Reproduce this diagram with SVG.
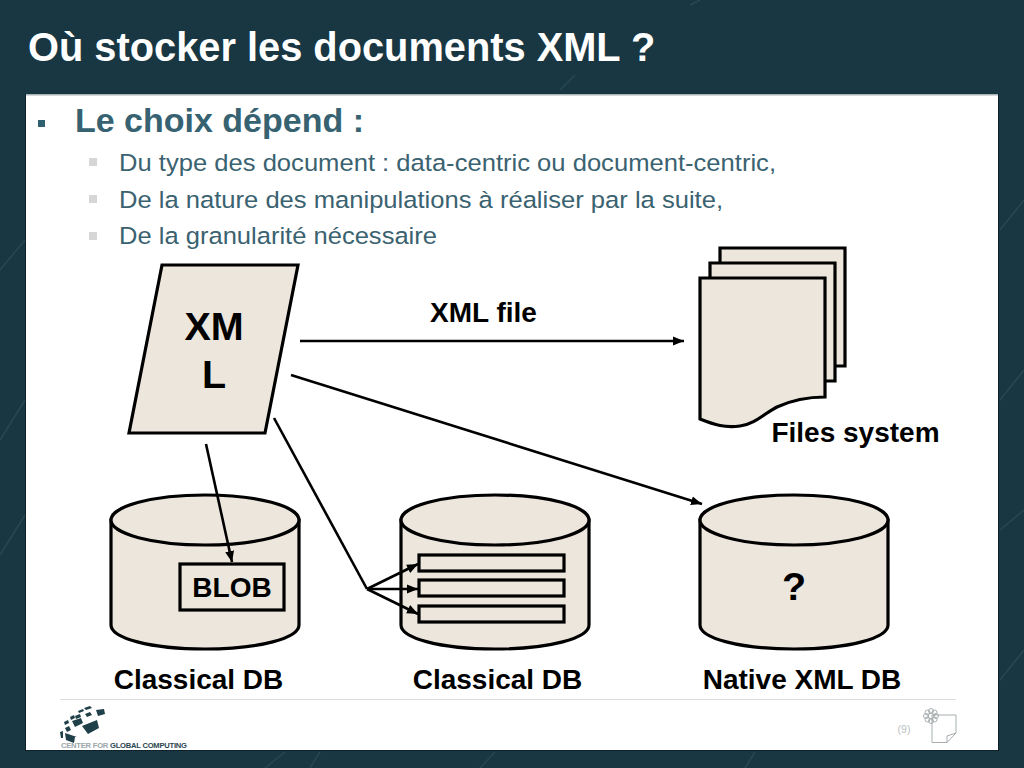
<svg xmlns="http://www.w3.org/2000/svg" width="1024" height="768" viewBox="0 0 1024 768">
<style>
text{font-family:"Liberation Sans",Arial,sans-serif}
.lbl{font-weight:bold;fill:#000;font-size:28px;text-anchor:middle}
.sub{fill:#3a6270;font-size:24.500px}
.s{fill:#ece6dd;stroke:#000;stroke-width:3.2;stroke-linejoin:miter}
.c{fill:none;stroke:#000;stroke-width:2.6}
.deco{fill:none;stroke:#28474f;stroke-width:1.5}
.logo{fill:#1f3f49}
</style>
<defs>
<marker id="arr" markerUnits="userSpaceOnUse" markerWidth="12" markerHeight="10" refX="11" refY="5" orient="auto"><path d="M0 0.5L11 5L0 9.5Z" fill="#000"/></marker>
</defs>
<g id="background">
<rect width="1024" height="768" fill="#183742"/>
<path class="deco" d="M0 440L25 400M0 555L25 515M0 270L25 240M1000 230L1024 200M1000 400L1024 370M1000 530L1024 510M1000 680L1024 650M265 768L285 752M480 768L495 752M310 768L320 752M745 768L755 752M700 0L690 5M560 90L575 75"/>
</g>
<g id="slide">
<rect x="25.500" y="94.500" width="973" height="656" fill="#fff" stroke="#0e2229" stroke-width="1"/>
<rect x="26" y="94" width="972" height="1.500" fill="#a9b4b7"/>
<text x="28" y="61" font-size="39.800" font-weight="bold" fill="#fff">Où stocker les documents XML ?</text>
<rect x="38" y="120" width="7" height="7" fill="#2f6070"/>
<text x="75" y="132" font-size="33" font-weight="bold" fill="#366271" textLength="289" lengthAdjust="spacingAndGlyphs">Le choix dépend :</text>
<rect x="89" y="158" width="8" height="8" fill="#d6d6d6"/>
<text class="sub" x="119" y="171" textLength="657" lengthAdjust="spacingAndGlyphs">Du type des document : data-centric ou document-centric,</text>
<rect x="89" y="195" width="8" height="8" fill="#d6d6d6"/>
<text class="sub" x="119" y="208" textLength="604" lengthAdjust="spacingAndGlyphs">De la nature des manipulations à réaliser par la suite,</text>
<rect x="89" y="232" width="8" height="8" fill="#d6d6d6"/>
<text class="sub" x="119" y="244" textLength="318" lengthAdjust="spacingAndGlyphs">De la granularité nécessaire</text>
</g>
<g id="node-xml">
<path class="s" d="M162 265H298L265 433H129Z"/>
<text x="214" y="340" font-size="39.500" font-weight="bold" text-anchor="middle">XM</text>
<text x="214" y="388" font-size="39.500" font-weight="bold" text-anchor="middle">L</text>
</g>
<g id="node-files">
<path class="s" d="M720 248H845V366H720Z"/>
<path class="s" d="M710 263H835V381H710Z"/>
<path class="s" d="M700 278H825V397C805 397 790 401 777 407C765 413 755 424 740 426C725 428 715 425 700 419Z"/>
<text class="lbl" x="855.500" y="442">Files system</text>
</g>
<g id="node-db1">
<path class="s" d="M111 520V625C111 638 150 649 205 649C260 649 299 638 299 625V520Z"/>
<ellipse class="s" cx="205" cy="520" rx="94" ry="25"/>
<rect class="s" x="180" y="564" width="104" height="46"/>
<text x="232" y="597" font-size="28" font-weight="bold" text-anchor="middle">BLOB</text>
<text class="lbl" x="198.500" y="689">Classical DB</text>
</g>
<g id="node-db2">
<path class="s" d="M401 520V625C401 638 440 649 495 649C550 649 589 638 589 625V520Z"/>
<ellipse class="s" cx="495" cy="520" rx="94" ry="25"/>
<rect class="s" x="419" y="555" width="145" height="16"/>
<rect class="s" x="419" y="580" width="145" height="16"/>
<rect class="s" x="419" y="606" width="145" height="16"/>
<text class="lbl" x="497.500" y="689">Classical DB</text>
</g>
<g id="node-db3">
<path class="s" d="M700 520V625C700 638 739 649 794 649C849 649 888 638 888 625V520Z"/>
<ellipse class="s" cx="794" cy="520" rx="94" ry="25"/>
<text x="794" y="600" font-size="39.500" font-weight="bold" text-anchor="middle">?</text>
<text class="lbl" x="802" y="689">Native XML DB</text>
</g>
<g id="connectors">
<path class="c" marker-end="url(#arr)" d="M300 341H684"/>
<path class="c" marker-end="url(#arr)" d="M291 375L702 504"/>
<path class="c" marker-end="url(#arr)" d="M206 444L232 562"/>
<path class="c" d="M274 418L367 589"/>
<path class="c" marker-end="url(#arr)" d="M367 589L418 564"/>
<path class="c" marker-end="url(#arr)" d="M367 589H418"/>
<path class="c" marker-end="url(#arr)" d="M367 589L418 614"/>
</g>
<text x="483.500" y="322" font-size="28" font-weight="bold" text-anchor="middle">XML file</text>
<g id="footer">
<path d="M60 699.500H956" stroke="#dcdcdc" stroke-width="1"/>
<g id="logo">
<path class="logo" d="M96 710L104 709L105 714L98 716ZM84 708L90 706L92 708L86 710ZM85 714L90 712L92 715L87 717ZM82 726L97 720L99 728L88 734ZM72 721L81 718L83 723L75 727ZM65 728L69 726L71 730L67 732ZM60 732L63 731L63 738L61 738ZM65 733L77 737L75 737L74 743L66 740ZM75 716L80 714L81 717L76 719ZM70 717L74 715L75 718L71 720ZM64 722L68 720L69 723L65 725ZM78 711L83 709L84 711L79 713Z"/>
<text x="61" y="748" font-size="7.600" font-weight="bold" fill="#9aa6aa" textLength="126">CENTER FOR <tspan fill="#2a4650">GLOBAL COMPUTING</tspan></text>
</g>
<text x="904" y="733" font-size="10.500" fill="#b8c0c2" text-anchor="middle">(9)</text>
<g id="page-icon" fill="none" stroke="#a8aeb0" stroke-width="1">
<path d="M932 715H956V733L947 742.500H932Z" fill="#fff"/>
<path d="M947 742.500V736L956 733"/>
<circle cx="931" cy="716" r="3"/>
<circle cx="931" cy="711" r="2.500"/><circle cx="931" cy="721" r="2.500"/><circle cx="926" cy="716" r="2.500"/><circle cx="936" cy="716" r="2.500"/>
<circle cx="927.500" cy="712.500" r="2.500"/><circle cx="934.500" cy="712.500" r="2.500"/><circle cx="927.500" cy="719.500" r="2.500"/><circle cx="934.500" cy="719.500" r="2.500"/>
</g>
</g>
</svg>
